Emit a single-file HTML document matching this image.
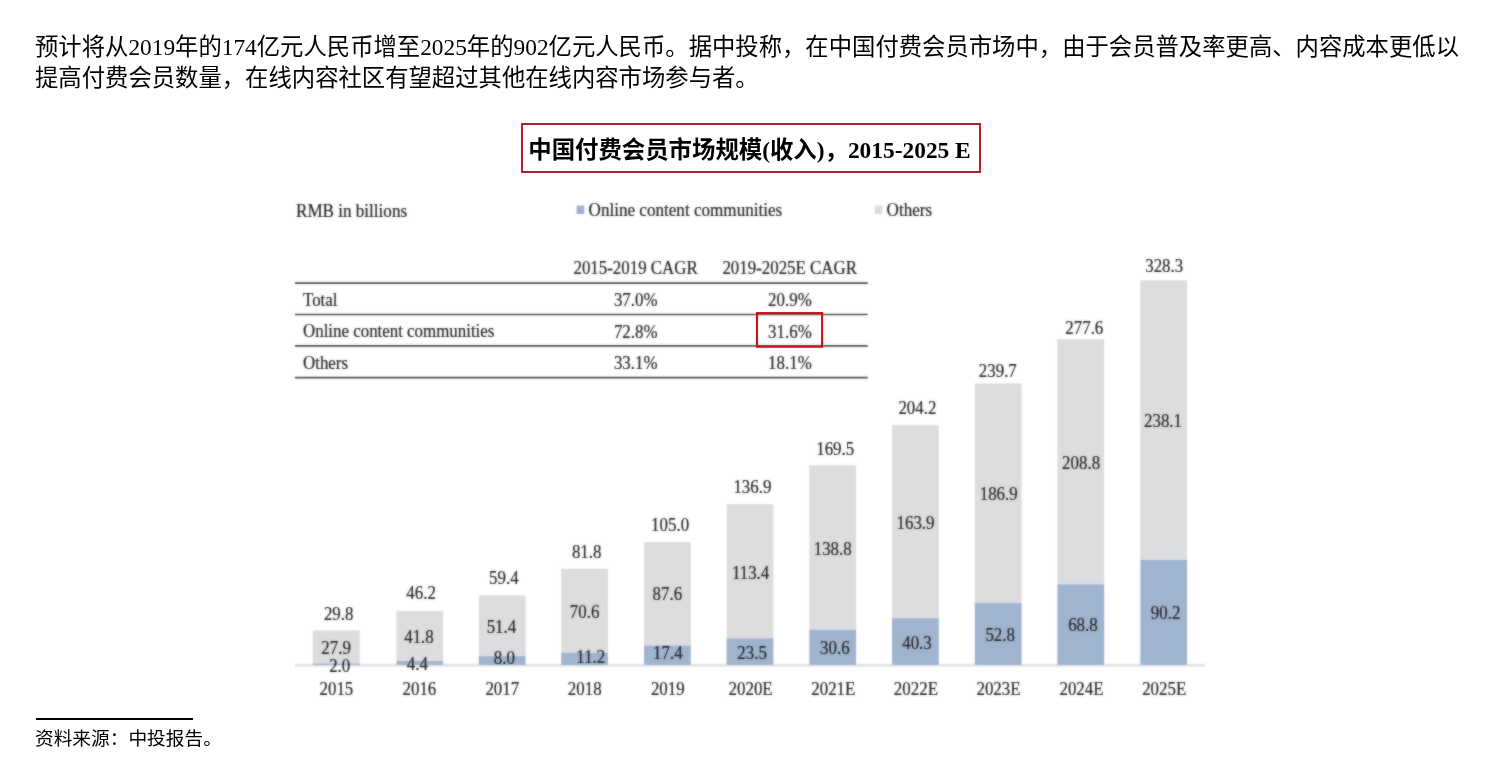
<!DOCTYPE html>
<html lang="zh-CN">
<head>
<meta charset="utf-8">
<title>中国付费会员市场规模</title>
<style>
html,body{margin:0;padding:0;background:#fff;}
body{width:1489px;height:773px;position:relative;overflow:hidden;color:#000;
 font-family:"Liberation Serif","Noto Sans CJK SC",sans-serif;}
.para{position:absolute;left:35px;top:32px;width:1440px;margin:0;font-size:23.35px;line-height:31px;white-space:nowrap;}
.title{position:absolute;left:521px;top:123px;width:456px;height:46px;border:2px solid #b0232d;
 font-size:23.4px;font-weight:bold;line-height:51px;text-align:center;text-indent:-3px;white-space:nowrap;color:#000;}
.rule{position:absolute;left:36px;top:718px;width:157px;height:2px;background:#000;}
.src{position:absolute;left:35px;top:726px;margin:0;font-size:18.7px;line-height:26px;white-space:nowrap;}
#chart{position:absolute;left:0;top:0;}
</style>
</head>
<body>
<p class="para">预计将从2019年的174亿元人民币增至2025年的902亿元人民币。据中投称，在中国付费会员市场中，由于会员普及率更高、内容成本更低以<br>提高付费会员数量，在线内容社区有望超过其他在线内容市场参与者。</p>
<div class="title">中国付费会员市场规模(收入)，2015-2025 E</div>
<svg id="chart" width="1489" height="773" viewBox="0 0 1489 773" font-family="'Liberation Serif',serif" fill="#222222">
<defs><filter id="soft" x="0" y="0" width="1489" height="773" filterUnits="userSpaceOnUse"><feGaussianBlur stdDeviation="0.85" result="b"/><feComposite in="SourceGraphic" in2="b" operator="arithmetic" k1="0" k2="0.45" k3="0.55" k4="0"/></filter><filter id="soft2" x="0" y="0" width="1489" height="773" filterUnits="userSpaceOnUse"><feGaussianBlur stdDeviation="0.8" result="b"/><feComposite in="SourceGraphic" in2="b" operator="arithmetic" k1="0" k2="0.5" k3="0.5" k4="0"/></filter></defs>
<g filter="url(#soft2)">
<line x1="295.0" y1="665.3" x2="1205.0" y2="665.3" stroke="#e3e4e6" stroke-width="3"/>
<rect x="312.8" y="630.3" width="46.8" height="33.1" fill="#dcdddf" stroke="none"/>
<rect x="312.8" y="663.4" width="46.8" height="1.6" fill="#a0b4d0" stroke="none"/>
<rect x="396.4" y="610.9" width="46.8" height="50.1" fill="#dcdddf" stroke="none"/>
<rect x="396.4" y="661.0" width="46.8" height="4.0" fill="#a0b4d0" stroke="none"/>
<rect x="478.8" y="595.4" width="46.8" height="60.7" fill="#dcdddf" stroke="none"/>
<rect x="478.8" y="656.1" width="46.8" height="8.9" fill="#a0b4d0" stroke="none"/>
<rect x="561.2" y="568.8" width="46.8" height="83.8" fill="#dcdddf" stroke="none"/>
<rect x="561.2" y="652.6" width="46.8" height="12.4" fill="#a0b4d0" stroke="none"/>
<rect x="644.0" y="542.0" width="46.8" height="103.5" fill="#dcdddf" stroke="none"/>
<rect x="644.0" y="645.5" width="46.8" height="19.5" fill="#a0b4d0" stroke="none"/>
<rect x="726.6" y="504.2" width="46.8" height="134.1" fill="#dcdddf" stroke="none"/>
<rect x="726.6" y="638.3" width="46.8" height="26.7" fill="#a0b4d0" stroke="none"/>
<rect x="809.3" y="465.3" width="46.8" height="164.4" fill="#dcdddf" stroke="none"/>
<rect x="809.3" y="629.7" width="46.8" height="35.3" fill="#a0b4d0" stroke="none"/>
<rect x="892.0" y="425.2" width="46.8" height="192.9" fill="#dcdddf" stroke="none"/>
<rect x="892.0" y="618.1" width="46.8" height="46.9" fill="#a0b4d0" stroke="none"/>
<rect x="974.8" y="383.4" width="46.8" height="219.4" fill="#dcdddf" stroke="none"/>
<rect x="974.8" y="602.8" width="46.8" height="62.2" fill="#a0b4d0" stroke="none"/>
<rect x="1057.4" y="339.3" width="46.8" height="245.0" fill="#dcdddf" stroke="none"/>
<rect x="1057.4" y="584.3" width="46.8" height="80.7" fill="#a0b4d0" stroke="none"/>
<rect x="1140.3" y="280.3" width="46.8" height="279.5" fill="#dcdddf" stroke="none"/>
<rect x="1140.3" y="559.8" width="46.8" height="105.2" fill="#a0b4d0" stroke="none"/>
<rect x="576.6" y="205.6" width="7.6" height="8.4" fill="#a0b4d0" stroke="none"/>
<rect x="874.8" y="205.6" width="7.6" height="8.4" fill="#dcdddf" stroke="none"/>
<line x1="295.0" y1="283.1" x2="867.7" y2="283.1" stroke="#4c4c4c" stroke-width="1.7"/>
<line x1="295.0" y1="314.5" x2="867.7" y2="314.5" stroke="#4c4c4c" stroke-width="1.7"/>
<line x1="295.0" y1="345.9" x2="867.7" y2="345.9" stroke="#4c4c4c" stroke-width="1.7"/>
<line x1="295.0" y1="377.6" x2="867.7" y2="377.6" stroke="#4c4c4c" stroke-width="1.7"/>
</g>
<rect x="757" y="313.1" width="65.1" height="33.6" fill="none" stroke="#d01018" stroke-width="2.1"/>
<g filter="url(#soft)" stroke="#222222" stroke-width="0.18" paint-order="stroke">
<text transform="translate(338.7,619.5) scale(1,1.08)" text-anchor="middle" font-size="16.9">29.8</text>
<text transform="translate(336.1,654.0) scale(1,1.08)" text-anchor="middle" font-size="16.9">27.9</text>
<text transform="translate(339.7,672.0) scale(1,1.08)" text-anchor="middle" font-size="16.9">2.0</text>
<text transform="translate(336.4,695.0) scale(1,1.08)" text-anchor="middle" font-size="16.9">2015</text>
<text transform="translate(421.1,599.3) scale(1,1.08)" text-anchor="middle" font-size="16.9">46.2</text>
<text transform="translate(419.0,642.5) scale(1,1.08)" text-anchor="middle" font-size="16.9">41.8</text>
<text transform="translate(417.4,670.0) scale(1,1.08)" text-anchor="middle" font-size="16.9">4.4</text>
<text transform="translate(419.4,695.0) scale(1,1.08)" text-anchor="middle" font-size="16.9">2016</text>
<text transform="translate(503.8,584.2) scale(1,1.08)" text-anchor="middle" font-size="16.9">59.4</text>
<text transform="translate(501.4,633.0) scale(1,1.08)" text-anchor="middle" font-size="16.9">51.4</text>
<text transform="translate(504.3,663.5) scale(1,1.08)" text-anchor="middle" font-size="16.9">8.0</text>
<text transform="translate(502.3,695.0) scale(1,1.08)" text-anchor="middle" font-size="16.9">2017</text>
<text transform="translate(586.7,557.9) scale(1,1.08)" text-anchor="middle" font-size="16.9">81.8</text>
<text transform="translate(584.6,617.5) scale(1,1.08)" text-anchor="middle" font-size="16.9">70.6</text>
<text transform="translate(590.8,663.2) scale(1,1.08)" text-anchor="middle" font-size="16.9">11.2</text>
<text transform="translate(584.7,695.0) scale(1,1.08)" text-anchor="middle" font-size="16.9">2018</text>
<text transform="translate(670.1,530.6) scale(1,1.08)" text-anchor="middle" font-size="16.9">105.0</text>
<text transform="translate(667.3,600.4) scale(1,1.08)" text-anchor="middle" font-size="16.9">87.6</text>
<text transform="translate(667.8,659.4) scale(1,1.08)" text-anchor="middle" font-size="16.9">17.4</text>
<text transform="translate(667.8,695.0) scale(1,1.08)" text-anchor="middle" font-size="16.9">2019</text>
<text transform="translate(752.4,493.3) scale(1,1.08)" text-anchor="middle" font-size="16.9">136.9</text>
<text transform="translate(750.6,578.7) scale(1,1.08)" text-anchor="middle" font-size="16.9">113.4</text>
<text transform="translate(752.1,658.8) scale(1,1.08)" text-anchor="middle" font-size="16.9">23.5</text>
<text transform="translate(750.6,695.0) scale(1,1.08)" text-anchor="middle" font-size="16.9">2020E</text>
<text transform="translate(835.2,454.7) scale(1,1.08)" text-anchor="middle" font-size="16.9">169.5</text>
<text transform="translate(832.7,555.0) scale(1,1.08)" text-anchor="middle" font-size="16.9">138.8</text>
<text transform="translate(834.8,654.0) scale(1,1.08)" text-anchor="middle" font-size="16.9">30.6</text>
<text transform="translate(833.3,695.0) scale(1,1.08)" text-anchor="middle" font-size="16.9">2021E</text>
<text transform="translate(917.4,414.1) scale(1,1.08)" text-anchor="middle" font-size="16.9">204.2</text>
<text transform="translate(915.5,528.5) scale(1,1.08)" text-anchor="middle" font-size="16.9">163.9</text>
<text transform="translate(917.0,648.8) scale(1,1.08)" text-anchor="middle" font-size="16.9">40.3</text>
<text transform="translate(915.9,695.0) scale(1,1.08)" text-anchor="middle" font-size="16.9">2022E</text>
<text transform="translate(997.8,376.6) scale(1,1.08)" text-anchor="middle" font-size="16.9">239.7</text>
<text transform="translate(998.7,500.3) scale(1,1.08)" text-anchor="middle" font-size="16.9">186.9</text>
<text transform="translate(1000.2,641.2) scale(1,1.08)" text-anchor="middle" font-size="16.9">52.8</text>
<text transform="translate(998.5,695.0) scale(1,1.08)" text-anchor="middle" font-size="16.9">2023E</text>
<text transform="translate(1084.3,334.2) scale(1,1.08)" text-anchor="middle" font-size="16.9">277.6</text>
<text transform="translate(1081.1,468.7) scale(1,1.08)" text-anchor="middle" font-size="16.9">208.8</text>
<text transform="translate(1082.9,631.4) scale(1,1.08)" text-anchor="middle" font-size="16.9">68.8</text>
<text transform="translate(1081.5,695.0) scale(1,1.08)" text-anchor="middle" font-size="16.9">2024E</text>
<text transform="translate(1164.2,272.0) scale(1,1.08)" text-anchor="middle" font-size="16.9">328.3</text>
<text transform="translate(1163.0,426.8) scale(1,1.08)" text-anchor="middle" font-size="16.9">238.1</text>
<text transform="translate(1165.6,619.3) scale(1,1.08)" text-anchor="middle" font-size="16.9">90.2</text>
<text transform="translate(1164.2,695.0) scale(1,1.08)" text-anchor="middle" font-size="16.9">2025E</text>
<text transform="translate(296.0,216.5) scale(1,1.08)" text-anchor="start" font-size="17.1">RMB in billions</text>
<text transform="translate(588.6,216.3) scale(1,1.08)" text-anchor="start" font-size="17.1">Online content communities</text>
<text transform="translate(886.6,216.3) scale(1,1.08)" text-anchor="start" font-size="17.1">Others</text>
<text transform="translate(635.6,274.3) scale(1,1.08)" text-anchor="middle" font-size="16.9">2015-2019 CAGR</text>
<text transform="translate(789.7,274.3) scale(1,1.08)" text-anchor="middle" font-size="16.9">2019-2025E CAGR</text>
<text transform="translate(303.0,305.8) scale(1,1.08)" text-anchor="start" font-size="16.9">Total</text>
<text transform="translate(635.7,306.3) scale(1,1.08)" text-anchor="middle" font-size="16.9">37.0%</text>
<text transform="translate(789.9,306.3) scale(1,1.08)" text-anchor="middle" font-size="16.9">20.9%</text>
<text transform="translate(303.0,337.4) scale(1,1.08)" text-anchor="start" font-size="16.9">Online content communities</text>
<text transform="translate(635.7,337.9) scale(1,1.08)" text-anchor="middle" font-size="16.9">72.8%</text>
<text transform="translate(789.9,337.9) scale(1,1.08)" text-anchor="middle" font-size="16.9">31.6%</text>
<text transform="translate(303.0,368.9) scale(1,1.08)" text-anchor="start" font-size="16.9">Others</text>
<text transform="translate(635.7,369.4) scale(1,1.08)" text-anchor="middle" font-size="16.9">33.1%</text>
<text transform="translate(789.9,369.4) scale(1,1.08)" text-anchor="middle" font-size="16.9">18.1%</text>
</g>
</svg>
<div class="rule"></div>
<p class="src">资料来源：中投报告。</p>
</body>
</html>
